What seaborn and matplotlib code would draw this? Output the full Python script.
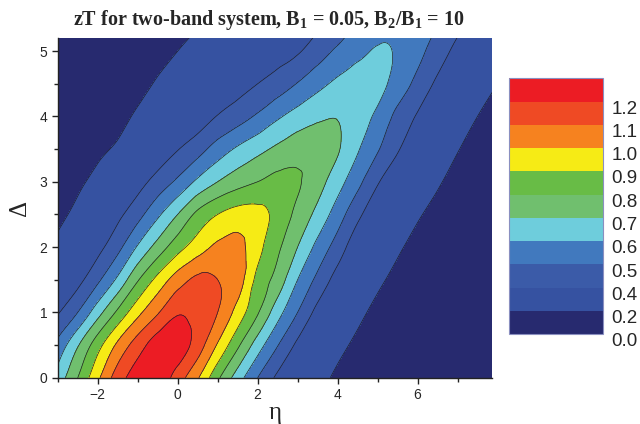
import numpy as np
import matplotlib
matplotlib.use("Agg")
import matplotlib.pyplot as plt
import matplotlib.tri as mtri
import matplotlib.transforms as mtransforms
from matplotlib.colors import ListedColormap, BoundaryNorm
import seaborn as sns

# Ejes de la malla (eta horizontal, Delta vertical)
eta = [-3.0, -2.5, -2.0, -1.5, -1.0, -0.5, 0.0, 0.5, 1.0, 1.5, 2.0, 2.5,
       3.0, 3.5, 4.0, 4.5, 5.0, 5.5, 6.0, 6.5, 7.0, 7.5, 8.0]
delta = [0.0, 0.5, 1.0, 1.5, 2.0, 2.5, 3.0, 3.5, 4.0, 4.5, 5.0, 5.5]

# zT, una fila por cada valor de Delta
zt_00 = [0.64, 0.80, 0.98, 1.15, 1.25, 1.27, 1.15, 1.01, 0.82, 0.65, 0.50, 0.38,
         0.31, 0.24, 0.18, 0.14, 0.11, 0.08, 0.06, 0.05, 0.04, 0.03, 0.03]
zt_05 = [0.53, 0.69, 0.86, 1.02, 1.15, 1.25, 1.26, 1.15, 0.99, 0.82, 0.65, 0.505,
         0.38, 0.30, 0.23, 0.18, 0.145, 0.115, 0.09, 0.07, 0.055, 0.045, 0.035]
zt_10 = [0.39, 0.50, 0.66, 0.82, 0.97, 1.09, 1.19, 1.16, 1.10, 0.96, 0.81, 0.64,
         0.50, 0.37, 0.285, 0.225, 0.175, 0.14, 0.11, 0.09, 0.07, 0.055, 0.045]
zt_15 = [0.30, 0.37, 0.48, 0.62, 0.79, 0.93, 1.05, 1.12, 1.10, 1.05, 0.87, 0.76,
         0.60, 0.475, 0.36, 0.285, 0.22, 0.175, 0.14, 0.11, 0.09, 0.07, 0.055]
zt_20 = [0.23, 0.30, 0.37, 0.47, 0.61, 0.74, 0.86, 0.95, 1.02, 1.03, 0.93, 0.82,
         0.70, 0.57, 0.455, 0.335, 0.27, 0.215, 0.17, 0.135, 0.11, 0.09, 0.07]
zt_25 = [0.17, 0.23, 0.30, 0.375, 0.465, 0.58, 0.70, 0.825, 0.90, 0.94, 0.93, 0.87,
         0.77, 0.67, 0.55, 0.425, 0.33, 0.27, 0.212, 0.17, 0.14, 0.11, 0.09]
zt_30 = [0.13, 0.18, 0.23, 0.29, 0.36, 0.44, 0.52, 0.62, 0.70, 0.76, 0.80, 0.83,
         0.81, 0.74, 0.64, 0.53, 0.41, 0.33, 0.27, 0.212, 0.168, 0.135, 0.11]
zt_35 = [0.10, 0.14, 0.18, 0.215, 0.27, 0.33, 0.395, 0.46, 0.545, 0.615, 0.67, 0.72,
         0.76, 0.77, 0.71, 0.61, 0.51, 0.41, 0.33, 0.26, 0.205, 0.165, 0.13]
zt_40 = [0.08, 0.11, 0.14, 0.17, 0.215, 0.26, 0.30, 0.345, 0.405, 0.455, 0.515, 0.585,
         0.64, 0.68, 0.695, 0.64, 0.58, 0.47, 0.39, 0.31, 0.25, 0.20, 0.16]
zt_45 = [0.06, 0.08, 0.11, 0.14, 0.17, 0.21, 0.245, 0.285, 0.32, 0.36, 0.40, 0.445,
         0.505, 0.57, 0.62, 0.65, 0.63, 0.56, 0.47, 0.38, 0.31, 0.25, 0.20]
zt_50 = [0.05, 0.06, 0.08, 0.11, 0.14, 0.17, 0.20, 0.24, 0.27, 0.30, 0.33, 0.36,
         0.39, 0.45, 0.52, 0.57, 0.61, 0.59, 0.53, 0.45, 0.37, 0.30, 0.25]
zt_55 = [0.04, 0.05, 0.06, 0.08, 0.11, 0.135, 0.16, 0.18, 0.205, 0.24, 0.275, 0.31,
         0.34, 0.37, 0.40, 0.485, 0.535, 0.57, 0.55, 0.51, 0.44, 0.36, 0.30]

# Niveles de contorno y colores de cada banda
levels = [0.0, 0.2, 0.4, 0.5, 0.6, 0.7, 0.8, 0.9, 1.0, 1.1, 1.2, 1.4]
level_labels = ['0.0', '0.2', '0.4', '0.5', '0.6', '0.7', '0.8', '0.9', '1.0', '1.1', '1.2']
band_colors = ['#272a6f', '#3652a1', '#3b5ba8', '#4179be', '#6ecddc', '#70bf6e',
               '#68bc46', '#f6eb15', '#f6821f', '#ef4a24', '#ec1c24']

sns.set_theme(style="ticks")
plt.rcParams['font.family'] = ['Liberation Sans', 'DejaVu Sans']
plt.rcParams['mathtext.fontset'] = 'custom'
plt.rcParams['mathtext.rm'] = 'Liberation Serif:bold'
plt.rcParams['mathtext.it'] = 'Liberation Serif:bold'
plt.rcParams['mathtext.bf'] = 'Liberation Serif:bold'

Z = np.array([zt_00, zt_05, zt_10, zt_15, zt_20, zt_25,
              zt_30, zt_35, zt_40, zt_45, zt_50, zt_55])

# Triangulacion de la malla, con la diagonal en el sentido de la cresta
nx, ny = len(eta), len(delta)
E, D = np.meshgrid(eta, delta)
triangles = []
for j in range(ny - 1):
    for i in range(nx - 1):
        k = j * nx + i
        triangles.append([k, k + 1, k + nx + 1])
        triangles.append([k, k + nx + 1, k + nx])
tri = mtri.Triangulation(E.ravel(), D.ravel(), triangles)
interp = mtri.CubicTriInterpolator(tri, Z.ravel(), kind='geom')
refiner = mtri.UniformTriRefiner(tri)
tri_f, z_f = refiner.refine_field(Z.ravel(), triinterpolator=interp, subdiv=4)
z_f = np.clip(z_f, 0.001, 1.39)

palette = sns.color_palette(band_colors)
cmap = ListedColormap(palette)
norm = BoundaryNorm(levels, cmap.N)

fig = plt.figure(figsize=(6.4, 4.24), dpi=100)
ax = fig.add_axes([0.0902, 0.1092, 0.679, 0.801])

cf = ax.tricontourf(tri_f, z_f, levels=levels, cmap=cmap, norm=norm)
ax.tricontour(tri_f, z_f, levels=levels[1:-1], colors='#1e1e2a', linewidths=0.5)

ax.set_xlim(-3, 7.87)
ax.set_ylim(0, 5.2)
ax.set_xticks([-2, 0, 2, 4, 6])
ax.set_xticks(np.arange(-3, 8, 1), minor=True)
ax.set_yticks([0, 1, 2, 3, 4, 5])
ax.set_yticks(np.arange(0, 5.5, 0.5), minor=True)
ax.tick_params(which='major', direction='out', length=4, width=1, labelsize=10, color='#222222')
ax.tick_params(which='minor', direction='out', length=3, width=1, color='#222222')
for side in ['top', 'right']:
    ax.spines[side].set_visible(False)
for side in ['left', 'bottom']:
    ax.spines[side].set_linewidth(1.0)
    ax.spines[side].set_color('#222222')

ax.set_xlabel('η', fontsize=18, family=['Liberation Serif', 'DejaVu Serif'], labelpad=0)
ax.set_ylabel('Δ', fontsize=18, family=['Liberation Serif', 'DejaVu Serif'], labelpad=6)

fig.text(0.42, 0.953, 'zT for two-band system, B$_1$ = 0.05, B$_2$/B$_1$ = 10',
         ha='center', va='center', fontsize=14.5, fontweight='bold',
         family=['Liberation Serif', 'DejaVu Serif'])

# Barra de colores
cax = fig.add_axes([0.7958, 0.2116, 0.1469, 0.6038])
cb = fig.colorbar(cf, cax=cax, ticks=levels[:-1], spacing='uniform')
cb.set_ticklabels(level_labels)
cb.outline.set_edgecolor('#8a8fc0')
cb.outline.set_linewidth(0.8)
cax.minorticks_off()
cax.tick_params(which='both', length=0, labelsize=13.5, pad=6)
offset = mtransforms.ScaledTranslation(0, -4 / 72, fig.dpi_scale_trans)
for lab in cax.get_yticklabels():
    lab.set_transform(lab.get_transform() + offset)

fig.savefig('out.png', dpi=100)
